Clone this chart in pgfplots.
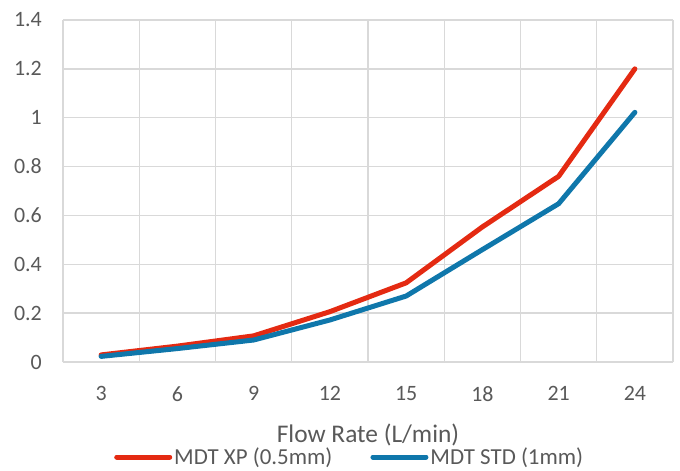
\documentclass[border=0pt]{standalone}
\usepackage{fontspec}
\setmainfont{Carlito}
\usepackage{pgfplots}
\pgfplotsset{compat=1.18}

\definecolor{xpred}{HTML}{E42A12}
\definecolor{stdblue}{HTML}{0F77AB}
\definecolor{gridgray}{HTML}{D9D9D9}
\definecolor{textgray}{HTML}{595959}

\begin{document}
\begin{tikzpicture}
  \begin{axis}[
      name=ax,
      scale only axis,
      width=610bp, height=342bp,
      xmin=1.5, xmax=25.5,
      ymin=0, ymax=1.4,
      xtick={3,6,...,24},
      ytick={0,0.2,...,1.4},
      minor xtick={1.5,4.5,...,25.5},
      /pgf/number format/fixed,
      /pgf/number format/precision=1,
      /pgf/number format/assume math mode=true,
      major tick length=0pt, minor tick length=0pt,
      axis line style={draw=none},
      ymajorgrids, xminorgrids,
      grid style={gridgray, line width=1.4bp},
      minor grid style={gridgray, line width=1.4bp},
      tick label style={textgray, font=\fontsize{22}{24}\selectfont, inner sep=0pt},
      yticklabel style={anchor=east, xshift=-21bp},
      xticklabel style={anchor=north, yshift=-24bp},
      xlabel={Flow Rate (L/min)},
      xlabel style={at={(axis description cs:0.5,0)}, anchor=base, yshift=-80bp,
        inner sep=0pt, textgray, font=\fontsize{25.5}{28}\selectfont},
      legend style={
        at={(axis description cs:0.47,0)}, anchor=center, yshift=-95bp,
        draw=none, fill=none,
        font=\fontsize{23}{25}\selectfont, text=textgray,
        legend columns=2,
        /tikz/every even column/.append style={column sep=36bp},
        inner sep=0pt,
        nodes={inner sep=2bp},
      },
      legend image code/.code={
        \draw[#1, line cap=round, line width=5bp] (0bp,0bp) -- (53bp,0bp);
      },
      legend cell align=left,
    ]
    \addplot[xpred, line width=5bp, line cap=round, line join=round] coordinates {
      (3,0.029) (6,0.065) (9,0.107) (12,0.206)
      (15,0.324) (18,0.553) (21,0.760) (24,1.200)
    };
    \addlegendentry{MDT XP (0.5mm)}
    \addplot[stdblue, line width=5bp, line cap=round, line join=round] coordinates {
      (3,0.023) (6,0.055) (9,0.090) (12,0.172)
      (15,0.270) (18,0.460) (21,0.648) (24,1.022)
    };
    \addlegendentry{MDT STD (1mm)}
  \end{axis}
  \pgfresetboundingbox
  \path[use as bounding box] ([shift={(-63bp,-109bp)}]ax.south west)
    rectangle ([shift={(617bp,362bp)}]ax.south west);
\end{tikzpicture}
\end{document}
